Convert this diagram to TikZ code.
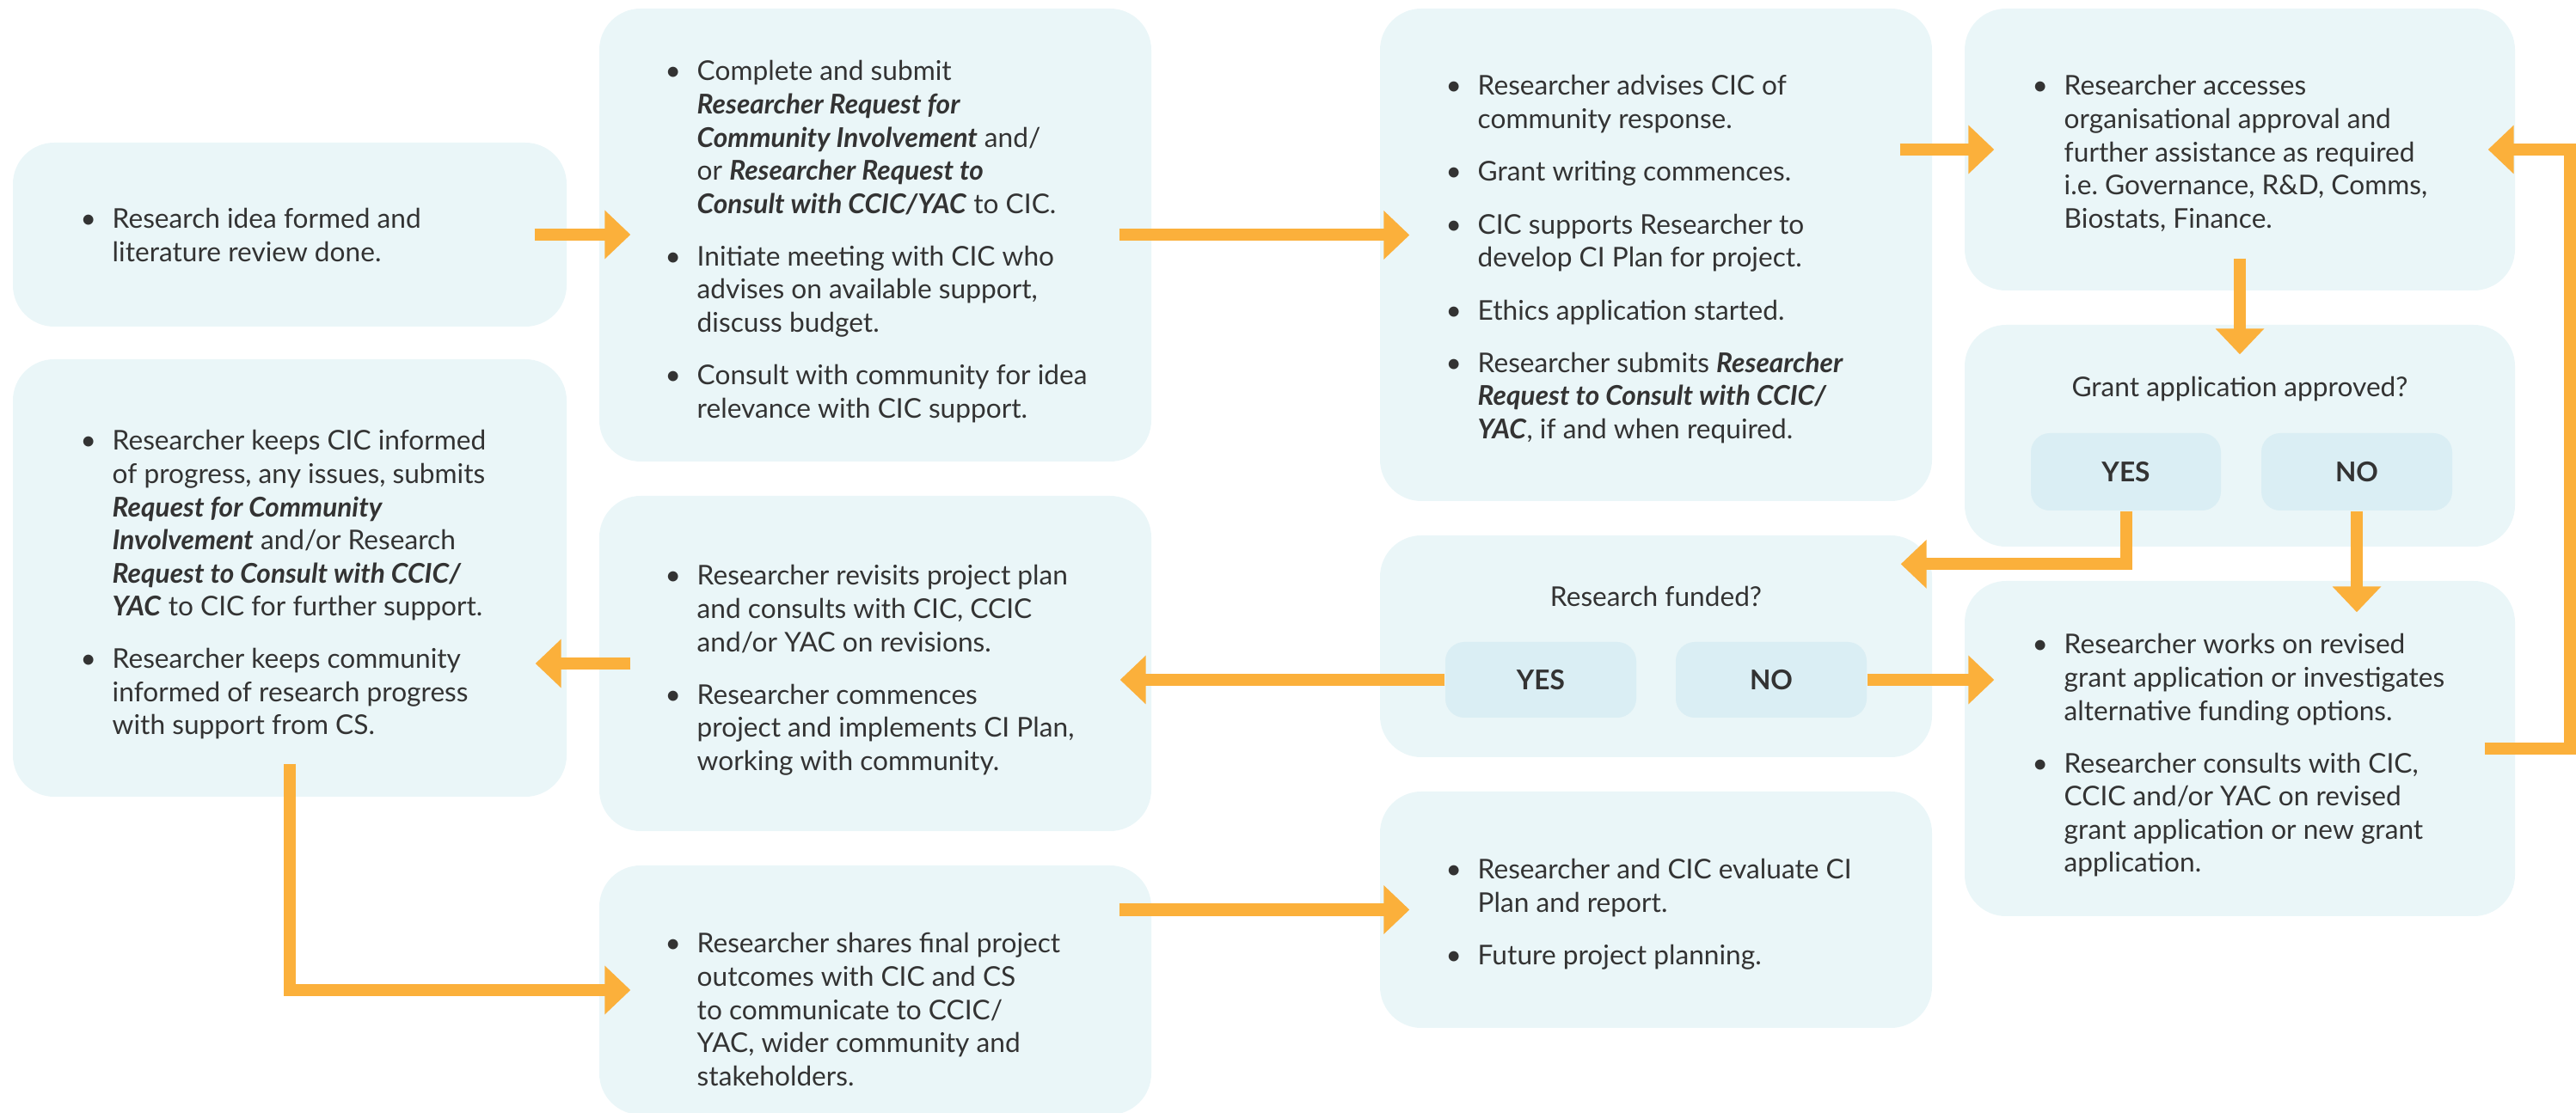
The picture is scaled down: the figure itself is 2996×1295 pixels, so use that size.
\documentclass[tikz,border=0pt]{standalone}
\usepackage{fontspec}
\setmainfont{Lato}
\usetikzlibrary{arrows.meta,fit}
\definecolor{boxc}{HTML}{EAF6F8}
\definecolor{btnc}{HTML}{DAEEF4}
\definecolor{arrc}{HTML}{FBB03B}
\definecolor{txtc}{HTML}{333333}
\newlength\bind \setlength\bind{0.37cm}
\newcommand\bl{\makebox[\bind][l]{\textbullet}}
\newcommand\bi[1]{\textbf{\textit{#1}}}
\newcommand\fs{\fontsize{9pt}{10.95pt}\selectfont}
\newenvironment{blist}{\begin{tabular}[t]{@{}l@{}l@{}}}{\end{tabular}}
\tikzset{
  box/.style={draw=none, fill=boxc, rounded corners=0.48cm, inner sep=0pt},
  btn/.style={draw=none, fill=btnc, rounded corners=0.22cm, inner sep=0pt},
  txt/.style={anchor=base west, inner sep=0pt, font=\fs, text=txtc},
  ctxt/.style={anchor=base, inner sep=0pt, font=\fs, text=txtc},
  lab/.style={inner sep=0pt, font=\fs\bfseries, text=txtc},
  arr/.style={draw=arrc, line width=0.14cm, -{Triangle[length=0.3cm, width=0.55cm]}}
}
\begin{document}
\begin{tikzpicture}[x=0.01cm, y=-0.01cm]
\useasboundingbox (0,0) rectangle (2996,1295);
% boxes
\node[box, fit={(15,166) (659,380)}] (b1) {};
\node[box, fit={(697,10) (1339,537)}] (b2) {};
\node[box, fit={(15,418) (659,927)}] (b3) {};
\node[box, fit={(697,577) (1339,967)}] (b4) {};
\node[box, fit={(697,1007) (1339,1297)}] (b5) {};
\node[box, fit={(1605,10) (2247,583)}] (b6) {};
\node[box, fit={(1605,623) (2247,881)}] (b7) {};
\node[box, fit={(1605,921) (2247,1196)}] (b8) {};
\node[box, fit={(2285,10) (2925,338)}] (b9) {};
\node[box, fit={(2285,378) (2925,636)}] (b10) {};
\node[box, fit={(2285,676) (2925,1066)}] (b11) {};
% buttons
\node[btn, fit={(2362,504) (2583,594)}] (y10) {};
\node[btn, fit={(2630,504) (2852,594)}] (n10) {};
\node[btn, fit={(1681,747) (1903,835)}] (y7) {};
\node[btn, fit={(1949,747) (2171,835)}] (n7) {};
\node[lab] (ly10) at (y10.center) {YES};
\node[lab] (ln10) at (n10.center) {NO};
\node[lab] (ly7) at (y7.center) {YES};
\node[lab] (ln7) at (n7.center) {NO};
% texts
\node[txt] (t1) at (93,266) {\begin{blist}
\bl & Research idea formed and\\
 & literature review done.
\end{blist}};
\node[txt] (t2) at (773,94) {\begin{blist}
\bl & Complete and submit\\
 & \bi{Researcher Request for}\\
 & \bi{Community Involvement} and/\\
 & or \bi{Researcher Request to}\\
 & \bi{Consult with CCIC/YAC} to CIC.\\[6.5pt]
\bl & Initiate meeting with CIC who\\
 & advises on available support,\\
 & discuss budget.\\[6.5pt]
\bl & Consult with community for idea\\
 & relevance with CIC support.
\end{blist}};
\node[txt] (t3) at (93,524) {\begin{blist}
\bl & Researcher keeps CIC informed\\
 & of progress, any issues, submits\\
 & \bi{Request for Community}\\
 & \bi{Involvement} and/or Research\\
 & \bi{Request to Consult with CCIC/}\\
 & \bi{YAC} to CIC for further support.\\[6.5pt]
\bl & Researcher keeps community\\
 & informed of research progress\\
 & with support from CS.
\end{blist}};
\node[txt] (t4) at (773,681) {\begin{blist}
\bl & Researcher revisits project plan\\
 & and consults with CIC, CCIC\\
 & and/or YAC on revisions.\\[6.5pt]
\bl & Researcher commences\\
 & project and implements CI Plan,\\
 & working with community.
\end{blist}};
\node[txt] (t5) at (773,1109) {\begin{blist}
\bl & Researcher shares final project\\
 & outcomes with CIC and CS\\
 & to communicate to CCIC/\\
 & YAC, wider community and\\
 & stakeholders.
\end{blist}};
\node[txt] (t6) at (1681,111) {\begin{blist}
\bl & Researcher advises CIC of\\
 & community response.\\[6.5pt]
\bl & Grant writing commences.\\[6.5pt]
\bl & CIC supports Researcher to\\
 & develop CI Plan for project.\\[6.5pt]
\bl & Ethics application started.\\[6.5pt]
\bl & Researcher submits \bi{Researcher}\\
 & \bi{Request to Consult with CCIC/}\\
 & \bi{YAC}, if and when required.
\end{blist}};
\node[ctxt] (t7) at (1926,706) {Research funded?};
\node[txt] (t8) at (1681,1023) {\begin{blist}
\bl & Researcher and CIC evaluate CI\\
 & Plan and report.\\[6.5pt]
\bl & Future project planning.
\end{blist}};
\node[txt] (t9) at (2363,111) {\begin{blist}
\bl & Researcher accesses\\
 & organisational approval and\\
 & further assistance as required\\
 & i.e.\ Governance, R\&D, Comms,\\
 & Biostats, Finance.
\end{blist}};
\node[ctxt] (t10) at (2605,462) {Grant application approved?};
\node[txt] (t11) at (2363,761) {\begin{blist}
\bl & Researcher works on revised\\
 & grant application or investigates\\
 & alternative funding options.\\[6.5pt]
\bl & Researcher consults with CIC,\\
 & CCIC and/or YAC on revised\\
 & grant application or new grant\\
 & application.
\end{blist}};
% arrows
\draw[arr] ([xshift=-0.38cm]b1.east) -- ([xshift=0.37cm]b2.west |- b1.east);
\draw[arr] ([xshift=-0.38cm]b2.east) -- ([xshift=0.35cm]b6.west |- b2.east);
\draw[arr] ([xshift=-0.38cm]b6.east |- b9.east) -- ([xshift=0.35cm]b9.west);
\draw[arr] ([yshift=0.38cm]b9.south) -- ([yshift=-0.35cm]b10.north);
\draw[arr] (y10.south) |- ([xshift=-0.37cm,yshift=-0.34cm]b7.north east);
\draw[arr] (n10.south) -- ([yshift=-0.37cm]n10.south |- b11.north);
\draw[arr] ([xshift=-0.36cm]b11.east) -| ([xshift=0.63cm]b9.east) -- ([xshift=-0.32cm]b9.east);
\draw[arr] (y7.west) -- ([xshift=-0.37cm]b4.east |- y7.west);
\draw[arr] (n7.east) -- ([xshift=0.35cm]b11.west |- n7.east);
\draw[arr] ([xshift=0.37cm]b4.west) -- ([xshift=-0.37cm]b3.east |- b4.west);
\draw[arr] ([yshift=0.39cm]b3.south) |- ([xshift=0.37cm]b5.west);
\draw[arr] ([xshift=-0.38cm]b5.east |- b8.west) -- ([xshift=0.35cm]b8.west);
\end{tikzpicture}
\end{document}
